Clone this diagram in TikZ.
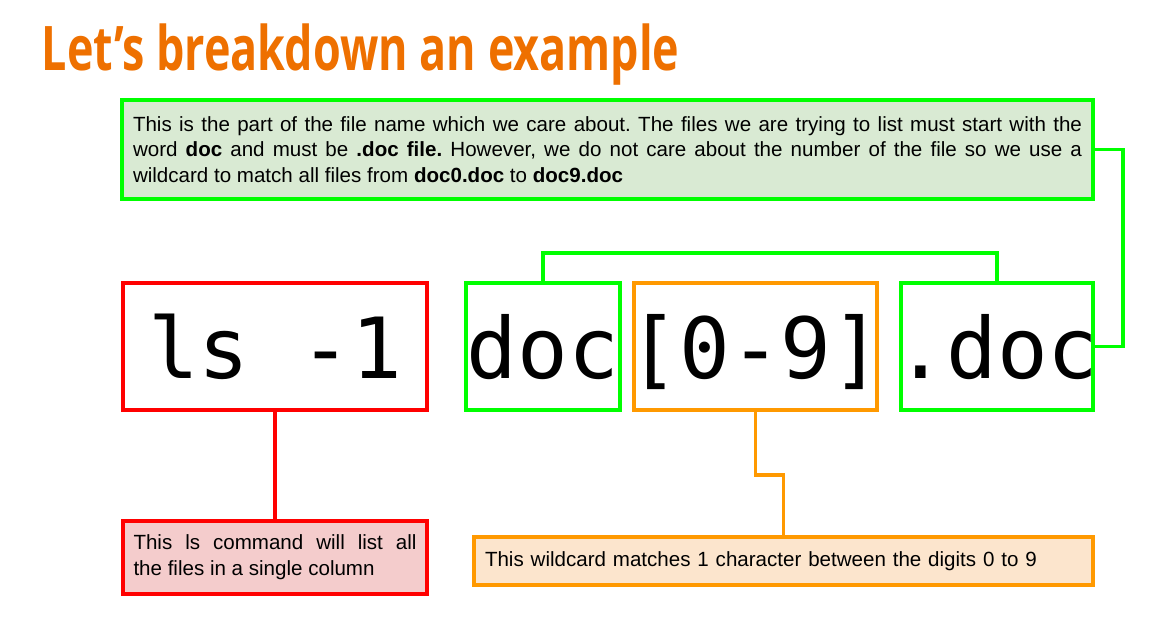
\documentclass[tikz,border=0pt]{standalone}
\usepackage{fontspec}
\setmainfont{Liberation Sans}
\newfontfamily\codefont{DejaVu Sans Mono}
\newfontfamily\titlefont{Open Sans}[FakeStretch=0.73]
\usetikzlibrary{positioning}
\frenchspacing

\definecolor{titleorange}{HTML}{EE7000}
\definecolor{boxgreen}{HTML}{00FF00}
\definecolor{fillgreen}{HTML}{D9EAD3}
\definecolor{boxred}{HTML}{FF0000}
\definecolor{fillred}{HTML}{F4CCCC}
\definecolor{boxorange}{HTML}{FF9900}
\definecolor{fillorange}{HTML}{FCE5CD}

\begin{document}
\begin{tikzpicture}
[x=0.02cm, y=-0.02cm, line width=2pt,
code/.style={rectangle, draw, inner ysep=0pt, inner xsep=-10pt, minimum height=127*0.02cm, text height=36pt, text depth=0pt,
  font=\codefont\fontsize{48pt}{48pt}\selectfont},
note/.style={rectangle, draw, inner sep=0pt, font=\fontsize{11.7pt}{14.6pt}\selectfont}]

\useasboundingbox (0,0) rectangle (1155,621);

\node[anchor=base west, inner sep=0pt, text=titleorange, font=\titlefont\bfseries\fontsize{35pt}{35pt}\selectfont]
  (title) at (40,71) {Let’s breakdown an example};

% description of the file name part
\node[note, draw=boxgreen, fill=fillgreen, minimum width=971*0.02cm, minimum height=99*0.02cm,
  text width=949*0.02cm, align=justify] (partnote) at (607.5,149.5)
  {This is the part of the file name which we care about. The files we are trying to list must start with the\linebreak
   word \textbf{doc} and must be \textbf{.doc file.} However, we do not care about the number of the file so we use a\linebreak
   wildcard to match all files from \textbf{doc0.doc} to \textbf{doc9.doc}};

% the command, split up
\node[code, draw=boxred, minimum width=304*0.02cm] (cmd) at (275,346.5) {ls -1};
\node[code, draw=boxgreen, minimum width=154*0.02cm] (word) at (543,346.5) {doc};
\node[code, draw=boxorange, minimum width=243*0.02cm] (range) at (755.5,346.5) {[0-9]};
\node[code, draw=boxgreen, minimum width=192*0.02cm] (ext) at (997,346.5) {.doc};

% notes below
\node[note, draw=boxred, fill=fillred, minimum width=304*0.02cm, minimum height=73*0.02cm,
  text width=283*0.02cm, align=justify] (lsnote) at (275,557.5)
  {This ls command will list all\linebreak the files in a single column};
\node[note, draw=boxorange, fill=fillorange, minimum width=619*0.02cm, minimum height=48*0.02cm,
  text width=597*0.02cm, align=left] (wildnote) at (783.5,561)
  {This wildcard matches 1 character between the digits 0 to 9};

% connectors
\draw[boxgreen] (word.north) -- ++(0,-28) -| (ext.north);
\draw[boxgreen] (partnote.east) -- ++(28,0) |- (ext.east);
\draw[boxred] (cmd.south) -- (lsnote.north);
\draw[boxorange] (range.south) -- ++(0,63) -| (wildnote.north);
\end{tikzpicture}
\end{document}
